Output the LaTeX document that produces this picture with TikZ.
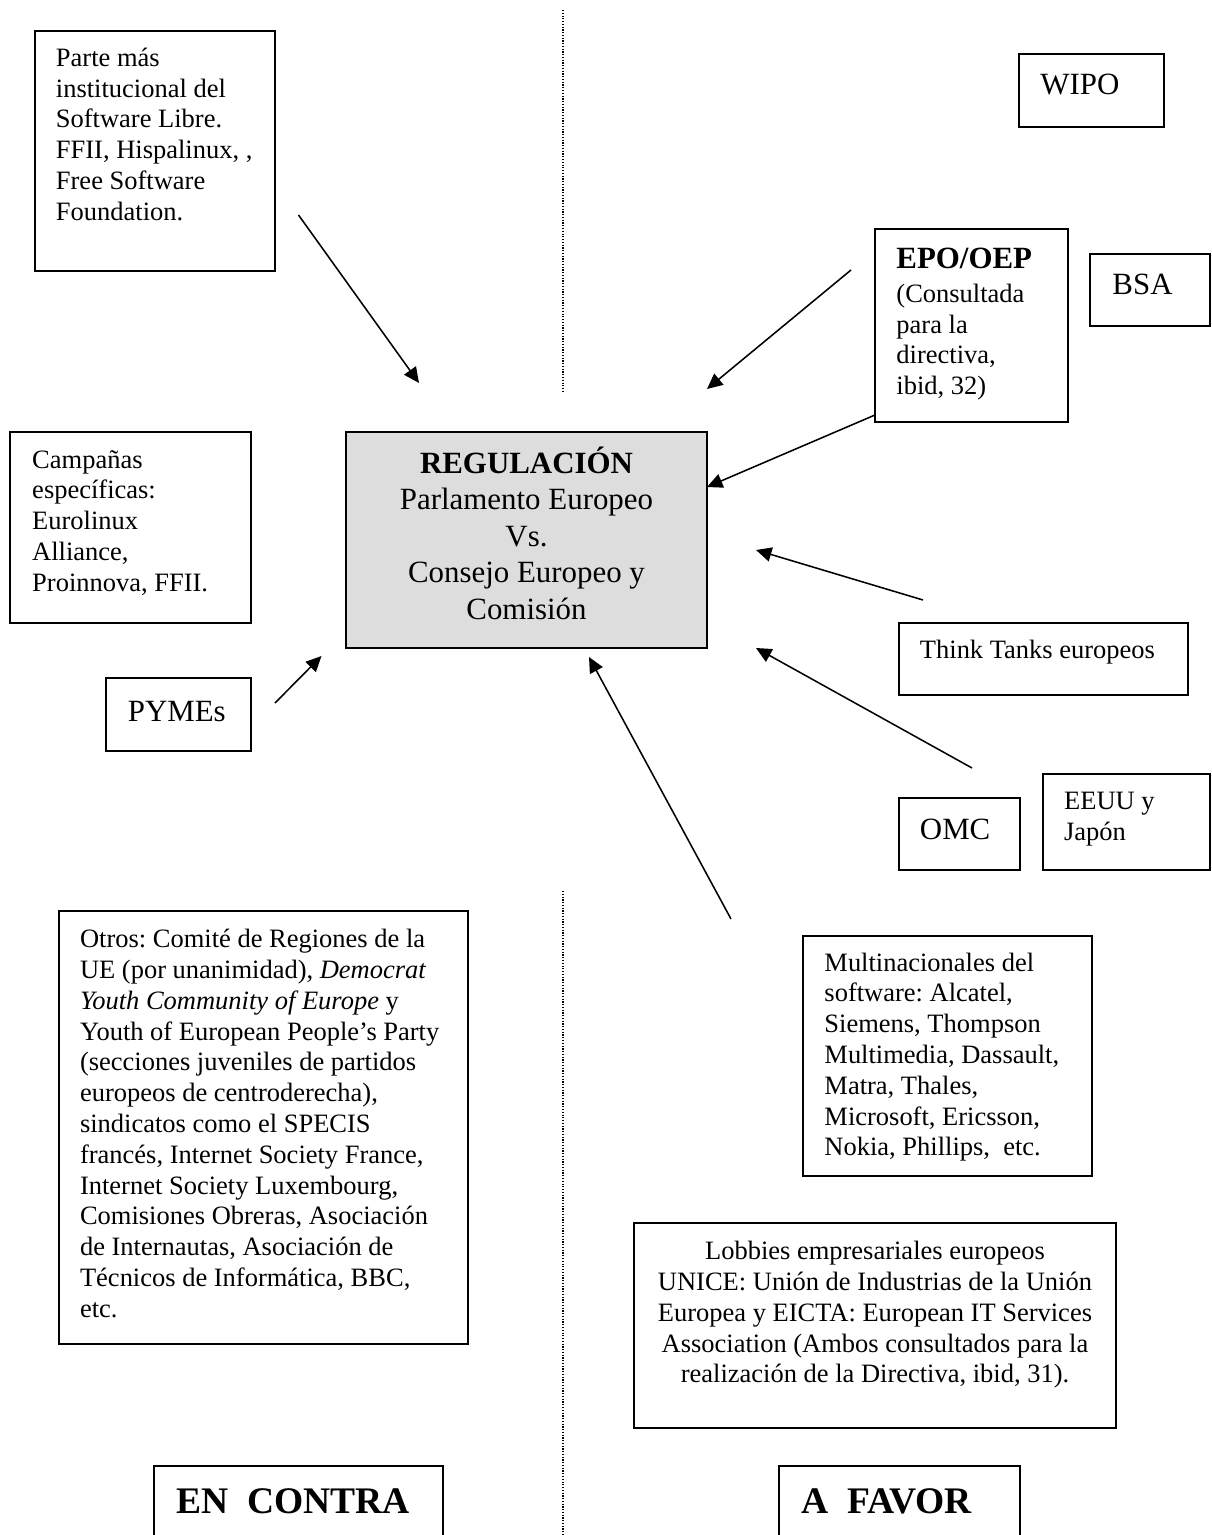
\documentclass[tikz,border=0pt]{standalone}
\usepackage{fontspec}
\setmainfont{Liberation Serif}
\usetikzlibrary{arrows.meta,fit}
\definecolor{regfill}{RGB}{221,221,221}
\frenchspacing
\begin{document}
\begin{tikzpicture}[x=0.453pt,y=-0.453pt,
  box/.style={draw=black, line width=0.9pt, inner sep=0pt, outer sep=0pt},
  txt/.style={anchor=north west, inner sep=0pt, align=left, font=\fontsize{12}{13.95}\selectfont},
  ctxt/.style={anchor=north, inner sep=0pt, align=center, font=\fontsize{12}{13.95}\selectfont},
  big/.style={anchor=base west, inner sep=0pt, font=\fontsize{14}{16.6}\selectfont},
  huge/.style={anchor=base west, inner sep=0pt, font=\fontsize{17}{20}\selectfont\bfseries},
  arr/.style={-{Triangle[length=7pt,width=6.5pt]}, line width=0.7pt},
  sepline/.style={line width=0.6pt, dash pattern=on 0.55pt off 0.7pt}
]
\useasboundingbox (0,0) rectangle (1211,1535);
\clip (0,0) rectangle (1211,1535);

% separators
\coordinate (s1a) at (563,10);
\coordinate (s1b) at (563,392);
\coordinate (s2a) at (563,891);
\coordinate (s2b) at (563,1545);
\draw[sepline] (s1a) -- (s1b);
\draw[sepline] (s2a) -- (s2b);

% boxes
\node[box, fit={(35,31) (275,271)}] (b1) {};
\node[box, fit={(10,432) (251,623)}] (camp) {};
\node[box, fit={(106,678) (251,751)}] (pymes) {};
\node[box, fill=regfill, fit={(346,432) (707,648)}] (reg) {};
\node[box, fit={(1019,54) (1164,127)}] (wipo) {};
\node[box, fit={(875,229) (1068,422)}] (epo) {};
\node[box, fit={(1090,254) (1209.5,326)}] (bsa) {};
\node[box, fit={(899,623) (1188,695)}] (think) {};
\node[box, fit={(899,798) (1020,870)}] (omc) {};
\node[box, fit={(1043,774) (1210,870)}] (eeuu) {};
\node[box, fit={(803,936) (1092,1176)}] (multi) {};
\node[box, fit={(59,911) (468,1344)}] (otros) {};
\node[box, fit={(634,1223) (1116,1428)}] (lobbies) {};
\node[box, fit={(154,1466) (443,1560)}] (contra) {};
\node[box, fit={(779,1466) (1020,1560)}] (favor) {};

% texts
\node[txt] (t1) at (55.5,44.4) {\strut Parte más\\institucional del\\Software Libre.\\FFII, Hispalinux, ,\\Free Software\\Foundation.};
\node[txt] (tcamp) at (31.8,446.1) {\strut Campañas\\específicas:\\Eurolinux\\Alliance,\\Proinnova, FFII.};
\node[big] (tpymes) at (127.4,721) {PYMEs};
\node[anchor=north, inner sep=0pt, align=center, font=\fontsize{14}{16.6}\selectfont] (treg) at (526.5,446.1)
  {\strut\textbf{REGULACIÓN}\\Parlamento Europeo\\Vs.\\Consejo Europeo y\\Comisión};
\node[big] (twipo) at (1040,95) {WIPO};
\node[big] (tepo1) at (896,269) {\textbf{EPO/OEP}};
\node[txt] (tepo2) at (896,280.4) {\strut(Consultada\\para la\\directiva,\\ibid, 32)};
\node[big] (tbsa) at (1112,295) {BSA};
\node[anchor=base west, inner sep=0pt, font=\fontsize{12}{13.95}\selectfont] (tthink) at (919.5,658) {Think Tanks europeos};
\node[big] (tomc) at (919.5,839) {OMC};
\node[txt] (teeuu) at (1063.7,787.4) {\strut EEUU y\\Japón};
\node[txt] (tmulti) at (824,949.1) {\strut Multinacionales del\\software: Alcatel,\\Siemens, Thompson\\Multimedia, Dassault,\\Matra, Thales,\\Microsoft, Ericsson,\\Nokia, Phillips,~ etc.};
\node[txt] (totros) at (79.6,925.7) {\strut Otros: Comité de Regiones de la\\UE (por unanimidad), \textit{Democrat}\\\textit{Youth Community of Europe} y\\Youth of European People’s Party\\(secciones juveniles de partidos\\europeos de centroderecha),\\sindicatos como el SPECIS\\francés, Internet Society France,\\Internet Society Luxembourg,\\Comisiones Obreras, Asociación\\de Internautas, Asociación de\\Técnicos de Informática, BBC,\\etc.};
\node[ctxt] (tlob) at (875,1237.7) {\strut Lobbies empresariales europeos\\UNICE: Unión de Industrias de la Unión\\Europea y EICTA: European IT Services\\Association (Ambos consultados para la\\realización de la Directiva, ibid, 31).};
\node[huge] (tcontra) at (176,1513) {EN~~CONTRA};
\node[huge] (tfavor) at (800.7,1513) {A~~FAVOR};

% arrows
\coordinate (a1s) at (298.5,215);  \coordinate (a1e) at (419,383);
\coordinate (a2s) at (851,270);    \coordinate (a2e) at (707,389);
\coordinate (a3s) at (875,415);    \coordinate (a3e) at (707,487);
\coordinate (a4s) at (923,600);    \coordinate (a4e) at (756,550);
\coordinate (a5s) at (972,768);    \coordinate (a5e) at (756,648);
\coordinate (a6s) at (731,919);    \coordinate (a6e) at (589,657);
\coordinate (a7s) at (275,703);    \coordinate (a7e) at (321.5,656);
\draw[arr] (a1s) -- (a1e);
\draw[arr] (a2s) -- (a2e);
\draw[arr] (a3s) -- (a3e);
\draw[arr] (a4s) -- (a4e);
\draw[arr] (a5s) -- (a5e);
\draw[arr] (a6s) -- (a6e);
\draw[arr] (a7s) -- (a7e);
\end{tikzpicture}
\end{document}
